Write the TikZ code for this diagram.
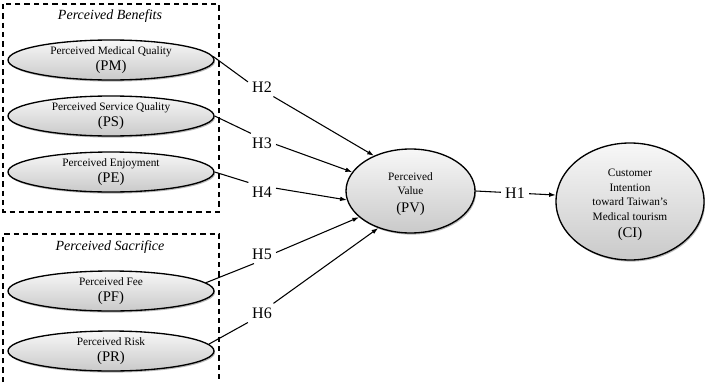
\documentclass[tikz,border=0pt]{standalone}
\usepackage{fontspec}
\setmainfont{Liberation Serif}
\usetikzlibrary{shapes.geometric,shadows,arrows.meta}
\newcommand{\abbr}[1]{{\fontsize{11}{11}\selectfont #1}}
\begin{document}
\begin{tikzpicture}[x=0.75pt,y=-0.75pt,>={Latex[length=5pt,width=3.5pt]},
		construct/.style={ellipse,draw=black,line width=1pt,inner sep=0pt,
			top color=gray!6,bottom color=gray!42,
			drop shadow={shadow xshift=0.8pt,shadow yshift=-1.2pt,fill=black!55}},
		factor/.style={construct,minimum width=154.5pt,minimum height=30pt},
		caption/.style={align=center,inner sep=0pt,font=\fontsize{8.5}{11}\selectfont},
		hyp/.style={inner sep=3pt,font=\fontsize{12}{14}\selectfont},
		grouptitle/.style={font=\fontsize{10.5}{12}\selectfont\itshape},
		groupbox/.style={line width=0.8pt,dash pattern=on 4pt off 3pt},
		link/.style={line width=0.8pt}]
	\useasboundingbox (0,0) rectangle (705,382);
	% groups
	\draw[groupbox] (3,4) rectangle (219,212);
	\draw[groupbox] (3,382) -- (3,234) -- (219,234) -- (219,382);
	\node[grouptitle] (ben) at (110,16) {Perceived Benefits};
	\node[grouptitle] (sac) at (110,247) {Perceived Sacrifice};
	% constructs
	\node[factor,label={[caption]center:{Perceived Medical Quality\\[1pt]\abbr{(PM)}}}] (PM) at (111,60) {};
	\node[factor,label={[caption]center:{Perceived Service Quality\\[1pt]\abbr{(PS)}}}] (PS) at (111,116) {};
	\node[factor,label={[caption]center:{Perceived Enjoyment\\[1pt]\abbr{(PE)}}}] (PE) at (111,172) {};
	\node[factor,label={[caption]center:{Perceived Fee\\[1pt]\abbr{(PF)}}}] (PF) at (111,291) {};
	\node[factor,label={[caption]center:{Perceived Risk\\[1pt]\abbr{(PR)}}}] (PR) at (111,351) {};
	\node[construct,minimum width=96.75pt,minimum height=63pt,
		label={[caption,yshift=-2pt]center:{Perceived\\Value\\[2pt]\abbr{(PV)}}}] (PV) at (410.5,191) {};
	\node[construct,minimum width=111pt,minimum height=87.75pt,
		label={[caption,yshift=-2.5pt]center:{Customer\\Intention\\toward Taiwan's\\Medical tourism\\[2pt]\abbr{(CI)}}}] (CI) at (630,201.5) {};
	% hypotheses
	\node[hyp] (H1) at (515,193) {H1};
	\node[hyp] (H2) at (262,87) {H2};
	\node[hyp] (H3) at (262,143) {H3};
	\node[hyp] (H4) at (262,192) {H4};
	\node[hyp] (H5) at (262,254) {H5};
	\node[hyp] (H6) at (262,313) {H6};
	\draw[link] (PM.2) -- (H2.160);
	\draw[link,->] (H2.-40) -- (PV.136);
	\draw[link] (PS.east) -- (H3.139);
	\draw[link,->] (H3.-6) -- (PV.162);
	\draw[link] (PE.east) -- (H4.145);
	\draw[link,->] (H4.15) -- (PV.188);
	\draw[link] (PF.5) -- (H5.230);
	\draw[link,->] (H5.6) -- (PV.207);
	\draw[link] (PR.4) -- (H6.214);
	\draw[link,->] (H6.40) -- (PV.229);
	\draw[link] (PV.east) -- (H1);
	\draw[link,->] (H1) -- (CI.175);
\end{tikzpicture}
\end{document}
